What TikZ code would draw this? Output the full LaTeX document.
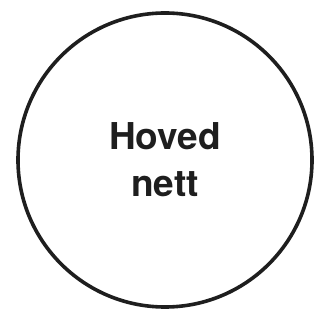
\documentclass[tikz,border=0pt]{standalone}
\usepackage{fontspec}
\setmainfont{TeX Gyre Heros}
\usepackage{tikz}
\usetikzlibrary{positioning}
\definecolor{Blekk}{RGB}{30,30,30}

\begin{document}
\begin{tikzpicture}[x=1pt, y=1pt,
	nett/.style={circle, draw=Blekk, line width=3.6pt, minimum size=294pt, inner sep=0pt},
	etikett/.style={font=\fontsize{37}{47}\selectfont\bfseries, text=Blekk, align=center, inner sep=0pt}]
	\useasboundingbox (0,0) rectangle (329,321);
	\node[nett] (hovednett) at (165,161) {};
	\node[etikett] (tekst) at (hovednett.center) {Hoved\\nett};
\end{tikzpicture}
\end{document}
